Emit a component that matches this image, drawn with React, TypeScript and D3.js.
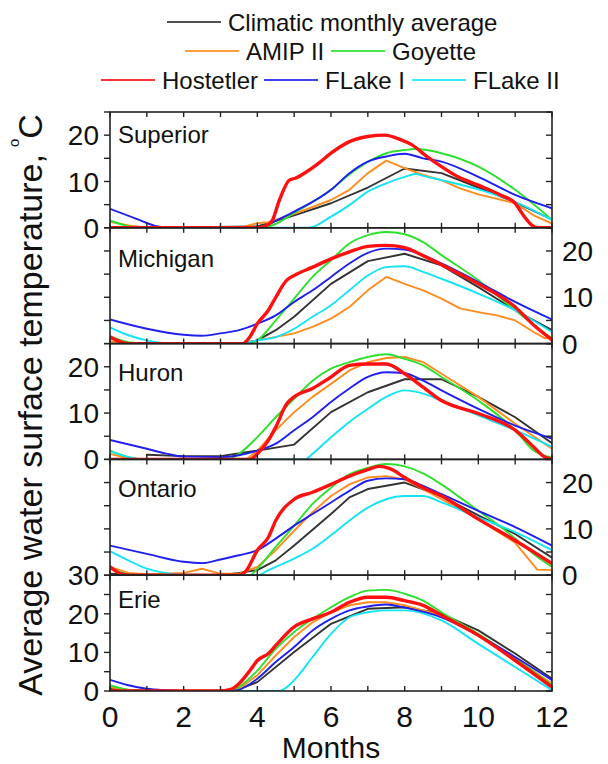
import React from "react";
import * as d3 from "d3";

type P = [number, number];

// ---- Data (month, °C) ----
const lakes = ["Superior", "Michigan", "Huron", "Ontario", "Erie"];
const yMaxes = [25, 25, 25, 25, 30];
const yLabelValues = [[0, 10, 20], [0, 10, 20], [0, 10, 20], [0, 10, 20], [0, 10, 20, 30]];
const labelSide = ["left", "right", "left", "right", "left"];
const xTickLabels = [0, 2, 4, 6, 8, 10, 12];

const seriesNames = ["Climatic monthly average", "AMIP II", "Goyette", "Hostetler", "FLake I", "FLake II"];
const seriesColors = ["#333333", "#ff8c1f", "#2ee02e", "#ff1010", "#1f1fee", "#14e4f4"];

// Superior
const supClim: P[] = [[1,0],[4,0.3],[5,2.7],[6,5.3],[7,8.7],[8,12.8],[9,11.8],[10,8.7],[11,5.5],[12,1.8]];
const supAmip: P[] = [[0,1.3],[0.5,0.5],[1,0],[3.5,0],[4,1],[4.3,1.2],[5,3],[6,6],[6.5,8.2],[7,11.8],[7.5,14.5],[8,12.9],[8.5,11.4],[9,10.3],[9.5,8.5],[10,7.2],[11,5.3],[11.5,2.7],[12,0.9]];
const supGoy: P[] = [[0,1.6],[0.6,0.2],[1,0],[4,0],[4.4,0.5],[5,3.2],[6,8.2],[6.5,11.5],[7,14.2],[7.5,16.1],[8,16.8],[8.3,17],[9,16.1],[10,13.2],[11,8.2],[12,1.7]];
const supHost: P[] = [[0,0],[4,0],[4.2,0.3],[4.4,1.5],[4.6,6],[4.87,10.3],[5.03,10.7],[5.34,12.1],[5.66,13.9],[6,16.1],[6.5,18.6],[7,19.7],[7.45,20],[7.87,19.1],[8.2,17.9],[8.6,15.4],[9,13.2],[9.45,11],[10,9.2],[10.6,7.1],[11,5.3],[11.25,2.4],[11.45,0.6],[11.6,0],[12,0]];
const supFl1: P[] = [[0,4.1],[0.7,2],[1.3,0.3],[1.7,0],[4,0],[4.2,0.3],[4.5,1.5],[5,3.5],[6,8.2],[6.5,11.8],[7,14.3],[7.5,15.4],[8,16],[8.5,15],[9,14.3],[10,11],[11,7.1],[12,4.2]];
const supFl2: P[] = [[0,0],[5.4,0],[6,2.4],[6.5,4.9],[7,7.8],[7.5,9.6],[8,11],[8.3,11.6],[8.5,11.2],[9,10.3],[10,8.3],[11,5.6],[12,1.7]];

// Michigan
const micClim: P[] = [[0,0],[3.5,0],[4,0.7],[4.5,2.9],[5,5.8],[6,12.9],[7,17.8],[8,19.4],[9,16.9],[10,12.2],[11,7.2],[12,2.9]];
const micAmip: P[] = [[0,0.5],[0.5,0],[3.5,0],[4,0.7],[5,2.2],[5.5,3.6],[6,5.4],[6.5,7.9],[7,11.5],[7.5,14.4],[8,12.9],[8.5,11.5],[9,9.7],[9.5,7.6],[10,6.8],[10.5,6.1],[11,5],[11.5,2.5],[11.8,1.2],[12,1.1]];
const micGoy: P[] = [[0,1.6],[0.5,0.3],[1,0],[3.8,0],[4,0.7],[4.5,5],[5,9.7],[5.5,14.4],[6,18],[6.5,21.6],[7,23.4],[7.5,24.1],[8,23.6],[8.5,21.9],[9,19.1],[10,13.7],[11,7.2],[12,1.1]];
const micHost: P[] = [[0,1.4],[0.5,0],[3.6,0],[3.8,1.5],[4,4.3],[4.3,7.2],[4.5,10],[4.8,13.7],[5,14.7],[5.5,16.5],[6,18.3],[6.5,19.8],[7,21],[7.5,21.2],[8,20.7],[8.5,19],[9,17],[10,12.9],[11,7.9],[11.5,4],[12,0.8]];
const micFl1: P[] = [[0,5.2],[1,3.2],[2,1.9],[2.5,1.7],[3,2.2],[3.5,2.9],[4,4.3],[4.5,6.1],[5,9],[5.5,11.5],[6,14.4],[6.5,17.3],[7,19.6],[7.5,20.5],[8,20.3],[8.5,19.1],[9,17.3],[10,13.3],[11,9],[12,5.2]];
const micFl2: P[] = [[0,3.5],[0.5,1.8],[1,0.7],[1.5,0.1],[3.5,0],[4,0.7],[4.5,1.4],[5,3.2],[5.5,5.8],[6,8.3],[6.5,11.5],[7,14.7],[7.5,16.5],[8,16.7],[8.5,15.5],[9,14],[10,10.8],[11,7.2],[12,2.5]];

// Huron
const hurClim: P[] = [[1,1],[2,0.7],[3,0.7],[4,1.9],[5,3.2],[6,10.2],[7,14.5],[8,17.3],[9,17.3],[10,13.5],[11,9.1],[12,3.5]];
const hurAmip: P[] = [[0,1.2],[0.5,0.2],[1,0],[3.7,0],[4,1.9],[4.5,6.3],[5,10.2],[5.5,13.5],[6,16.3],[6.5,19.2],[7,21],[7.5,21.9],[8,22.1],[8.5,21],[9,18.5],[10,13.5],[11,7.7],[12,2.3]];
const hurGoy: P[] = [[0,1.9],[0.5,0.5],[1,0],[3.2,0],[3.5,1.2],[4,4.8],[4.5,9.1],[5,13.1],[5.5,17],[6,19.6],[6.5,21],[7,22.1],[7.5,22.7],[8,21.7],[8.5,20.3],[9,17.8],[10,12.7],[11,6.3],[11.5,1.9],[12,0.4]];
const hurHost: P[] = [[0,0],[3.8,0],[4,1.2],[4.3,4.1],[4.5,7],[4.8,12],[5,13.5],[5.5,15.3],[6,17.8],[6.5,20.3],[7,20.6],[7.5,20.6],[8,18.5],[8.5,15.6],[9,12.7],[10,9.9],[11,6.3],[11.5,2.7],[11.8,0.5],[12,0]];
const hurFl1: P[] = [[0,4.2],[1,2.3],[1.5,1.3],[2,0.6],[3,0.5],[3.5,0.9],[4,1.9],[4.5,3.4],[5,6.3],[5.5,9.1],[6,12.4],[6.5,15.3],[7,17.8],[7.5,18.8],[8,18.6],[8.5,17],[9,14.9],[10,10.9],[11,7.3],[12,4.5]];
const hurFl2: P[] = [[0,1.8],[0.5,0.5],[1,0],[5.3,0],[5.5,1.2],[6,4.8],[6.5,8.1],[7,10.9],[7.5,13.5],[8,14.9],[8.5,14.2],[9,12.7],[10,9.5],[11,6.3],[12,2.7]];

// Ontario
const ontClim: P[] = [[0,0.3],[1,0],[3,0],[3.5,0.5],[4,1.1],[4.5,3.2],[5,6.4],[6,13.2],[6.5,16.8],[7,18.6],[8,20],[9,17.1],[10,12.9],[11,8.9],[12,3.8]];
const ontAmip: P[] = [[0,1.8],[0.5,0.5],[1,0.2],[2,0.5],[2.5,1.4],[3,0.3],[3.5,0.3],[4,1.8],[4.5,5.4],[5,9.6],[5.5,13.6],[6,17.1],[6.5,19.6],[7,21.1],[7.5,21.4],[8,20.7],[8.5,18.6],[9,16.4],[10,12.1],[11,7],[11.6,1.2],[12,1.1]];
const ontGoy: P[] = [[0,1.4],[0.5,0.2],[1,0],[3.8,0],[4,1.4],[4.5,6.1],[5,10.7],[5.5,15.4],[6,18.9],[6.5,21.8],[7,23.2],[7.5,24],[8,23.5],[8.5,22],[9,19.6],[9.5,16.8],[10,13.9],[10.5,11.1],[11,7.9],[11.5,4.6],[12,1.8]];
const ontHost: P[] = [[0,1.8],[0.3,0.3],[0.6,0],[3.5,0],[3.7,1],[4,5.4],[4.3,8.2],[4.5,11.8],[5,16.4],[5.5,17.9],[6,19.6],[6.5,21.4],[7,22.8],[7.3,23.5],[7.6,23],[8,21.1],[8.5,18.9],[9,17.1],[10,12.1],[11,7.5],[12,2.5]];
const ontFl1: P[] = [[0,6.4],[1,4.6],[2,2.9],[2.5,2.6],[3,3.4],[3.5,4.3],[4,5.4],[4.5,7.9],[5,10.7],[5.5,13.2],[6,15.7],[6.5,18.2],[7,20.4],[7.5,20.9],[8,20.7],[8.5,19.3],[9,17.5],[10,13.9],[11,10.4],[12,6.4]];
const ontFl2: P[] = [[0,5.2],[0.5,3.2],[1,1.4],[1.5,0.5],[2,0.1],[4,0],[4.3,1.1],[4.5,1.8],[5,3.6],[5.5,5.7],[6,8.6],[6.5,11.8],[7,14.6],[7.5,16.4],[8,17.1],[8.5,17.1],[9,15.7],[10,12.5],[11,9.3],[12,5.4]];

// Erie
const eriClim: P[] = [[0,0.5],[1,0.1],[3,0.1],[3.5,0.5],[4,2.3],[5,10.1],[6,17.4],[7,21.3],[8,21.7],[9,20],[10,15.7],[11,9.7],[12,3.2]];
const eriAmip: P[] = [[0,1],[0.5,0.2],[1,0],[3.3,0],[3.5,0.5],[4,4.1],[4.5,9.2],[5,14],[5.5,17.8],[6,20.4],[6.5,22.2],[7,23],[7.5,23],[8,22.2],[9,19.6],[10,14.4],[11,8.4],[12,1.9]];
const eriGoy: P[] = [[0,1.5],[0.5,0.3],[1,0],[3.3,0],[3.5,1],[4,5.3],[4.5,10.9],[5,15.3],[5.5,18.7],[6,21.7],[6.5,24.3],[7,26],[7.5,26.2],[8,25.2],[8.5,23.4],[9,20.4],[10,14.8],[11,8.4],[12,1.5]];
const eriHost: P[] = [[0,0],[3,0],[3.3,0.5],[3.5,1.9],[3.8,5.3],[4,7.9],[4.3,9.7],[4.5,11.8],[5,16.6],[5.5,18.7],[6,20.4],[6.5,23],[7,24.3],[7.5,24.3],[8,23.4],[8.5,22.2],[9,19.6],[10,14.4],[11,7.9],[12,1]];
const eriFl1: P[] = [[0,2.9],[0.5,1.5],[1,0.6],[1.5,0.2],[2,0],[3.3,0],[3.5,0.3],[4,3.2],[4.5,7.5],[5,11.4],[5.5,15.7],[6,18.7],[6.5,20.9],[7,21.9],[7.5,22.4],[8,21.6],[9,19.1],[10,14.4],[11,8.8],[12,2.8]];
const eriFl2: P[] = [[0,0],[4.6,0],[4.8,1],[5,2.8],[5.5,8.8],[6,14.8],[6.5,19.1],[7,20.4],[7.5,20.9],[8,20.9],[9,18.3],[10,12.2],[11,6.2],[12,0.2]];

// order per lake: clim, amip, goyette, hostetler, flake1, flake2
const lakeSeries: P[][][] = [
  [supClim, supAmip, supGoy, supHost, supFl1, supFl2],
  [micClim, micAmip, micGoy, micHost, micFl1, micFl2],
  [hurClim, hurAmip, hurGoy, hurHost, hurFl1, hurFl2],
  [ontClim, ontAmip, ontGoy, ontHost, ontFl1, ontFl2],
  [eriClim, eriAmip, eriGoy, eriHost, eriFl1, eriFl2],
];

// ---- Layout ----
const W = 608, H = 764;
const X0 = 110, X1 = 552;
const TOP = 112, PH = 115.8;
const labelOffsets = [31, 39, 37, 38, 33];
const drawOrder = [0, 1, 2, 5, 4, 3];
const FONT = "'Liberation Sans', Arial, Helvetica, sans-serif";

export default function App() {
  const x = d3.scaleLinear().domain([0, 12]).range([X0, X1]);
  const monthTicks = d3.range(0, 13);

  const legendRows = [
    { y: 22, items: [{ i: 0, lx: 167 }] },
    { y: 51, items: [{ i: 1, lx: 185 }, { i: 2, lx: 331 }] },
    { y: 80, items: [{ i: 3, lx: 101 }, { i: 4, lx: 264 }, { i: 5, lx: 412 }] },
  ];

  return (
    <svg width={W} height={H} style={{ position: "absolute", left: 0, top: 0, background: "#fff" }} fontFamily={FONT}>
      {/* legend */}
      {legendRows.map((row, ri) => (
        <g key={ri}>
          {row.items.map((it) => (
            <g key={it.i}>
              <line x1={it.lx} x2={it.lx + 54} y1={row.y} y2={row.y} stroke={seriesColors[it.i]} strokeWidth={2} strokeOpacity={0.85} />
              <text x={it.lx + 61} y={row.y + 8.5} fontSize={24} fill="#111">{seriesNames[it.i]}</text>
            </g>
          ))}
        </g>
      ))}

      {lakes.map((lake, li) => {
        const top = TOP + li * PH;
        const bottom = top + PH;
        const y = d3.scaleLinear().domain([0, yMaxes[li]]).range([bottom, top]);
        const yTicks = d3.range(0, yMaxes[li] + 0.001, 5);
        const clipId = `clip-${li}`;
        return (
          <g key={lake}>
            <defs>
              <clipPath id={clipId}>
                <rect x={X0} y={top} width={X1 - X0} height={PH} />
              </clipPath>
            </defs>
            <g clipPath={`url(#${clipId})`}>
              {drawOrder.map((si) => {
                const pts = lakeSeries[li][si];
                const curve = si === 0 || si === 1 ? d3.curveLinear : d3.curveMonotoneX;
                const gen = d3.line<P>().x((d) => x(d[0])).y((d) => y(d[1])).curve(curve);
                return (
                  <path key={si} d={gen(pts) || ""} fill="none" stroke={seriesColors[si]}
                    strokeWidth={si === 3 ? 3.4 : 1.9} strokeLinejoin="round" strokeLinecap="round" />
                );
              })}
            </g>
            {/* frame */}
            <rect x={X0} y={top} width={X1 - X0} height={PH} fill="none" stroke="#222" strokeWidth={1.6} />
            {/* y ticks */}
            {yTicks.map((t) => (
              <g key={t}>
                <line x1={X0 - 6} x2={X0} y1={y(t)} y2={y(t)} stroke="#222" strokeWidth={1.4} />
                <line x1={X1 - 6} x2={X1} y1={y(t)} y2={y(t)} stroke="#222" strokeWidth={1.4} />
              </g>
            ))}
            {/* x ticks */}
            {monthTicks.map((m) => (
              <g key={m}>
                <line x1={x(m)} x2={x(m)} y1={top} y2={top + 5} stroke="#222" strokeWidth={1.4} />
                <line x1={x(m)} x2={x(m)} y1={bottom} y2={bottom - 5} stroke="#222" strokeWidth={1.4} />
              </g>
            ))}
            {/* y labels */}
            {yLabelValues[li].map((v) => (
              <text key={v}
                x={labelSide[li] === "left" ? X0 - 11 : X1 + 10}
                y={y(v)} dy="0.36em"
                textAnchor={labelSide[li] === "left" ? "end" : "start"}
                fontSize={28} fill="#111">{v}</text>
            ))}
            <text x={X0 + 8} y={top + labelOffsets[li]} fontSize={24} fill="#111">{lake}</text>
          </g>
        );
      })}

      {/* x tick labels */}
      {xTickLabels.map((m) => (
        <text key={m} x={x(m)} y={727} textAnchor="middle" fontSize={30} fill="#111">{m}</text>
      ))}
      <text x={(X0 + X1) / 2} y={758} textAnchor="middle" fontSize={30} fill="#111">Months</text>

      {/* y axis title */}
      <text transform="translate(42,405) rotate(-90)" textAnchor="middle" fontSize={34} fill="#111">
        Average water surface temperature,
        <tspan fontSize={15} dx={7} dy={-23}>o</tspan>
        <tspan dy={23}>C</tspan>
      </text>
    </svg>
  );
}
